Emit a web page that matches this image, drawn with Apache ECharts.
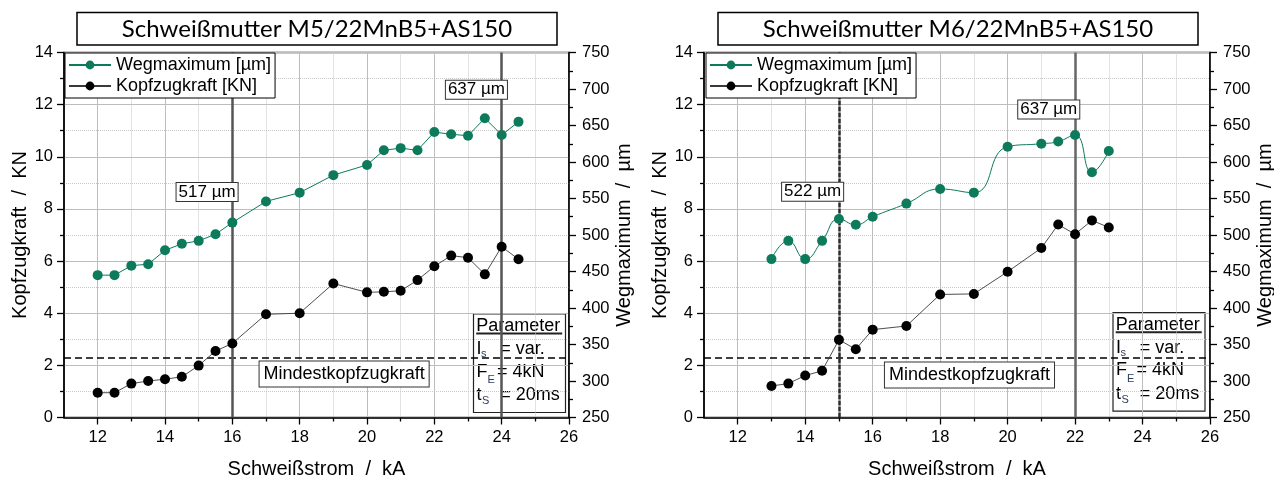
<!DOCTYPE html>
<html>
<head>
<meta charset="utf-8">
<script src="https://cdn.jsdelivr.net/npm/echarts@6/dist/echarts.min.js"></script>
<style>
  html, body { margin: 0; padding: 0; background: #fff; }
  #chart { width: 1274px; height: 477px; }
</style>
</head>
<body>
<div id="chart"></div>
<script>
// Schweißmutter M5 (links)
const stromM5 = [12, 12.5, 13, 13.5, 14, 14.5, 15, 15.5, 16, 17, 18, 19, 20, 20.5, 21, 21.5, 22, 22.5, 23, 23.5, 24, 24.5];
const kraftM5 = [0.95, 0.95, 1.30, 1.40, 1.47, 1.56, 1.99, 2.55, 2.84, 3.96, 4.0, 5.14, 4.80, 4.82, 4.86, 5.27, 5.80, 6.21, 6.13, 5.49, 6.55, 6.07];
const wegM5 = [445, 445, 458, 460, 479, 488, 492, 501, 517, 546, 558, 582, 596, 616, 619, 616, 641, 638, 636, 660, 637, 655];
const linienM5 = [16, 24];
const notizenM5 = [['517 µm', 15.25, 8.65], ['637 µm', 23.25, 12.57]];

// Schweißmutter M6 (rechts)
const stromM6 = [13, 13.5, 14, 14.5, 15, 15.5, 16, 17, 18, 19, 20, 21, 21.5, 22, 22.5, 23];
const kraftM6 = [1.21, 1.30, 1.61, 1.79, 2.98, 2.62, 3.37, 3.51, 4.72, 4.74, 5.59, 6.50, 7.40, 7.03, 7.56, 7.29];
const wegM6 = [467, 492, 467, 492, 522, 514, 525, 543, 563, 558, 621, 625, 628, 637, 586, 615];
const linienM6 = [15, 22];
const notizenM6 = [['522 µm', 14.22, 8.66], ['637 µm', 21.22, 11.81]];

const mindestKraft = 2.3;
const mindestPos = [[19.32, 1.67], [18.87, 1.63]];
const xGerade = [12, 14, 16, 18, 20, 22, 24, 26];
const xUngerade = [13, 15, 17, 19, 21, 23, 25];

const FONT = "'Liberation Sans', Arial, sans-serif";
const GRUEN = '#0e7a5c';

const chart = echarts.init(document.getElementById('chart'));

function xAchsen(gi) {
  return [
    {
      gridIndex: gi, type: 'value', min: 11, max: 26, interval: 1, position: 'bottom',
      name: 'Schweißstrom  /  kA', nameLocation: 'middle', nameGap: 42,
      nameTextStyle: { fontFamily: FONT, fontSize: 20, color: '#000' },
      axisLine: { show: true, onZero: false, lineStyle: { color: '#000', width: 1.5 } },
      axisTick: { show: true, length: 7, customValues: xGerade, lineStyle: { color: '#000', width: 1.3 } },
      axisLabel: { customValues: xGerade, margin: 11, fontFamily: FONT, fontSize: 16.5, color: '#000' },
      splitLine: { show: true, lineStyle: { color: '#bdbdbd', width: 1 } }
    },
    {
      gridIndex: gi, type: 'value', min: 11, max: 26, interval: 1, position: 'bottom',
      axisLine: { show: false },
      axisTick: { show: true, length: 4, customValues: xUngerade, lineStyle: { color: '#000', width: 1.3 } },
      axisLabel: { show: false },
      splitLine: { show: true, lineStyle: { color: '#c8c8c8', width: 1, type: 'dotted' } }
    }
  ];
}

function yAchsen(gi) {
  return [
    {
      gridIndex: gi, type: 'value', min: 0, max: 14, interval: 2, position: 'left',
      name: 'Kopfzugkraft  /  KN', nameLocation: 'middle', nameGap: 34, nameRotate: 90,
      nameTextStyle: { fontFamily: FONT, fontSize: 20, color: '#000' },
      axisLine: { show: true, onZero: false, lineStyle: { color: '#000', width: 1.5 } },
      axisTick: { show: true, length: 7, lineStyle: { color: '#000', width: 1.3 } },
      minorTick: { show: true, splitNumber: 2, length: 4, lineStyle: { color: '#000', width: 1.3 } },
      axisLabel: { margin: 11, fontFamily: FONT, fontSize: 16.5, color: '#000' },
      splitLine: { show: true, lineStyle: { color: '#bdbdbd', width: 1 } },
      minorSplitLine: { show: true, lineStyle: { color: '#c8c8c8', width: 1, type: 'dotted' } }
    },
    {
      gridIndex: gi, type: 'value', min: 250, max: 750, interval: 50, position: 'right',
      name: 'Wegmaximum  /  µm', nameLocation: 'middle', nameGap: 45, nameRotate: 90,
      nameTextStyle: { fontFamily: FONT, fontSize: 20, color: '#000' },
      axisLine: { show: true, onZero: false, lineStyle: { color: '#000', width: 1.5 } },
      axisTick: { show: true, length: 7, lineStyle: { color: '#000', width: 1.3 } },
      minorTick: { show: true, splitNumber: 2, length: 4, lineStyle: { color: '#000', width: 1.3 } },
      axisLabel: { margin: 13, fontFamily: FONT, fontSize: 16.5, color: '#000' },
      splitLine: { show: false }
    }
  ];
}

const boxLabel = {
  show: true, position: 'inside', fontFamily: FONT, fontSize: 17, color: '#000',
  backgroundColor: '#fff', borderColor: '#333', borderWidth: 1, padding: [1, 2, 0, 2]
};

function kraftSerie(xi, yi, strom, kraft, linien, notizen, mpos, rechts) {
  const senk = linien.map((v, i) => {
    let ls = { color: '#555', width: 2.5, type: 'solid' };
    if (rechts && i === 0) ls = { color: '#2a2a2a', width: 2.5, type: [5, 1] };
    if (rechts && i === 1) ls = { color: '#666', width: 2.5, type: 'solid' };
    return { xAxis: v, lineStyle: ls };
  });
  return {
    name: 'Kopfzugkraft [KN]', type: 'line', xAxisIndex: xi, yAxisIndex: yi, z: 3,
    data: strom.map((x, i) => [x, kraft[i]]),
    symbol: 'circle', symbolSize: 10,
    itemStyle: { color: '#000' },
    lineStyle: { color: '#3a3a3a', width: 0.9 },
    markLine: {
      silent: true, symbol: 'none', z: 1, label: { show: false },
      data: [{ yAxis: mindestKraft, lineStyle: { color: '#000', width: 1.5, type: [7, 4] } }].concat(senk)
    },
    markPoint: {
      silent: true, symbol: 'rect', symbolSize: 1, z: 10,
      itemStyle: { color: 'rgba(0,0,0,0)' },
      data: notizen.map(n => ({ coord: [n[1], n[2]], value: n[0], label: Object.assign({}, boxLabel, { formatter: n[0] }) }))
        .concat([{ coord: mpos, value: 0, label: Object.assign({}, boxLabel, { fontSize: 18, padding: [4, 4, 3, 4], formatter: 'Mindestkopfzugkraft' }) }])
    }
  };
}

function wegSerie(xi, yi, strom, weg, glatt) {
  return {
    name: 'Wegmaximum [µm]', type: 'line', xAxisIndex: xi, yAxisIndex: yi, z: 3,
    data: strom.map((x, i) => [x, weg[i]]),
    smooth: glatt ? 0.5 : false,
    symbol: 'circle', symbolSize: 10,
    itemStyle: { color: GRUEN },
    lineStyle: { color: GRUEN, width: 1 }
  };
}

function legende(left) {
  return {
    data: ['Wegmaximum [µm]', 'Kopfzugkraft [KN]'],
    orient: 'vertical', left: left, top: 53,
    itemWidth: 42, itemHeight: 11, itemGap: 3,
    padding: [3, 4, 3, 3],
    backgroundColor: '#fff', borderColor: '#000', borderWidth: 1,
    selectedMode: false,
    textStyle: { fontFamily: FONT, fontSize: 18, color: '#000' }
  };
}

function titel(x0, text) {
  return [
    { type: 'rect', z: 100, shape: { x: x0, y: 12.5, width: 480, height: 32.5 },
      style: { fill: '#fff', stroke: '#000', lineWidth: 1.5 } },
    { type: 'text', z: 101, x: x0 + 240, y: 29,
      style: { text: text, font: "24px Lato, 'Open Sans', sans-serif", fill: '#000', textAlign: 'center', textVerticalAlign: 'middle' } }
  ];
}

function parameterBox(x0, y0) {
  const t = (x, y, s, size) => ({
    type: 'text', x: x, y: y,
    style: { text: s, font: (size || 18) + 'px ' + FONT, fill: size ? '#2c3e5c' : '#000', textAlign: 'left', textVerticalAlign: 'middle' }
  });
  return {
    type: 'group', x: x0, y: y0, z: 100,
    children: [
      { type: 'rect', shape: { x: 0, y: 0, width: 92, height: 98.5 }, style: { fill: '#fff', stroke: '#222', lineWidth: 1.2 } },
      t(2.7, 12, 'Parameter'),
      { type: 'line', shape: { x1: 2.7, y1: 19.5, x2: 88.7, y2: 19.5 }, style: { stroke: '#222', lineWidth: 2 } },
      t(3, 35, 'I'), t(7.4, 40, 's', 11), t(26.7, 35, '= var.'),
      t(3, 57.7, 'F'), t(14, 66, 'E', 11), t(23.4, 57.7, '= 4kN'),
      t(3, 81, 't'), t(8.4, 87, 'S', 11), t(26.7, 81, '= 20ms')
    ]
  };
}

const option = {
  animation: false,
  backgroundColor: '#fff',
  grid: [
    { left: 64, top: 52.5, width: 505, height: 365, outerBoundsMode: 'none', containLabel: false,
      show: true, borderColor: '#222', borderWidth: 1.5, backgroundColor: 'transparent' },
    { left: 704, top: 52.5, width: 506, height: 365, outerBoundsMode: 'none', containLabel: false,
      show: true, borderColor: '#222', borderWidth: 1.5, backgroundColor: 'transparent' }
  ],
  legend: [legende(65), legende(706)],
  xAxis: xAchsen(0).concat(xAchsen(1)),
  yAxis: yAchsen(0).concat(yAchsen(1)),
  series: [
    wegSerie(0, 1, stromM5, wegM5, false),
    kraftSerie(0, 0, stromM5, kraftM5, linienM5, notizenM5, mindestPos[0], false),
    wegSerie(2, 3, stromM6, wegM6, true),
    kraftSerie(2, 2, stromM6, kraftM6, linienM6, notizenM6, mindestPos[1], true)
  ],
  graphic: titel(77, 'Schweißmutter M5/22MnB5+AS150')
    .concat(titel(718, 'Schweißmutter M6/22MnB5+AS150'))
    .concat([parameterBox(473.5, 314), parameterBox(1113, 312.7)])
};

chart.setOption(option);
</script>
</body>
</html>
